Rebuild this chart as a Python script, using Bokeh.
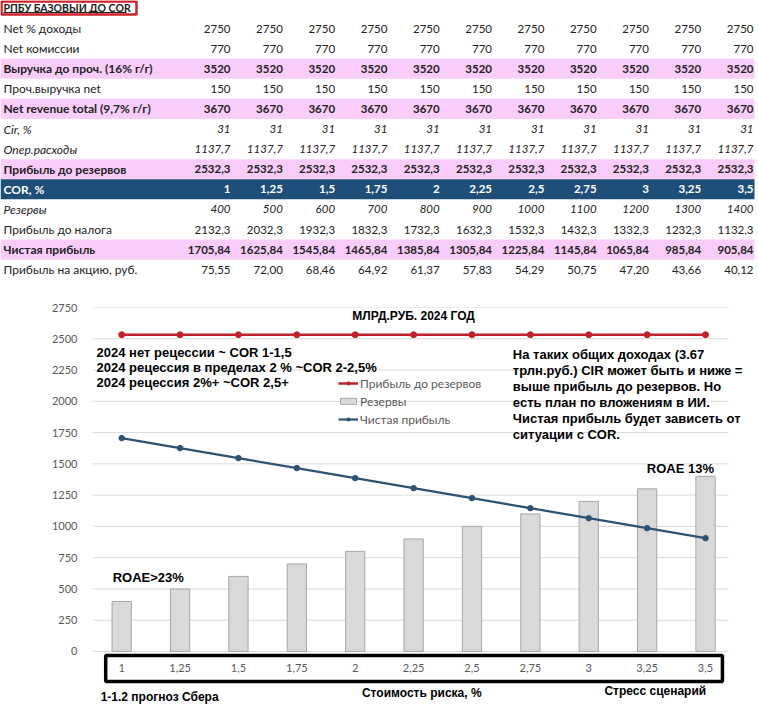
from bokeh.plotting import figure
from bokeh.models import ColumnDataSource, Range1d, FixedTicker
from bokeh.core.properties import value
from bokeh.embed import file_html
from bokeh.resources import INLINE

# ---------------- data ----------------
cor_labels = ["1", "1,25", "1,5", "1,75", "2", "2,25", "2,5", "2,75", "3", "3,25", "3,5"]
net_interest_income = [2750, 2750, 2750, 2750, 2750, 2750, 2750, 2750, 2750, 2750, 2750]
net_commissions = [770, 770, 770, 770, 770, 770, 770, 770, 770, 770, 770]
revenue_before_other = [3520, 3520, 3520, 3520, 3520, 3520, 3520, 3520, 3520, 3520, 3520]
other_revenue = [150, 150, 150, 150, 150, 150, 150, 150, 150, 150, 150]
net_revenue_total = [3670, 3670, 3670, 3670, 3670, 3670, 3670, 3670, 3670, 3670, 3670]
cir_pct = [31, 31, 31, 31, 31, 31, 31, 31, 31, 31, 31]
opex = [1137.7, 1137.7, 1137.7, 1137.7, 1137.7, 1137.7, 1137.7, 1137.7, 1137.7, 1137.7, 1137.7]
profit_before_provisions = [2532.3, 2532.3, 2532.3, 2532.3, 2532.3, 2532.3, 2532.3, 2532.3, 2532.3, 2532.3, 2532.3]
provisions = [400, 500, 600, 700, 800, 900, 1000, 1100, 1200, 1300, 1400]
profit_before_tax = [2132.3, 2032.3, 1932.3, 1832.3, 1732.3, 1632.3, 1532.3, 1432.3, 1332.3, 1232.3, 1132.3]
net_profit = [1705.84, 1625.84, 1545.84, 1465.84, 1385.84, 1305.84, 1225.84, 1145.84, 1065.84, 985.84, 905.84]
eps_rub = [75.55, 72.00, 68.46, 64.92, 61.37, 57.83, 54.29, 50.75, 47.20, 43.66, 40.12]
y_ticks = [0, 250, 500, 750, 1000, 1250, 1500, 1750, 2000, 2250, 2500, 2750]

series_names = ["Прибыль до резервов", "Резервы", "Чистая прибыль"]
chart_title = "МЛРД.РУБ. 2024 ГОД"
note_left = ["2024 нет рецессии ~ COR 1-1,5",
             "2024 рецессия в пределах 2 % ~COR 2-2,5%",
             "2024 рецессия 2%+ ~COR 2,5+"]
note_right = ["На таких общих доходах (3.67",
              "трлн.руб.) CIR может быть и ниже =",
              "выше прибыль до резервов. Но",
              "есть план по вложениям в ИИ.",
              "Чистая прибыль будет зависеть от",
              "ситуации с COR."]


def fmt(v, d):
    return f"{v:.{d}f}".replace(".", ",")


rows = [
    ("Net % доходы", [fmt(v, 0) for v in net_interest_income], "normal", None),
    ("Net комиссии", [fmt(v, 0) for v in net_commissions], "normal", None),
    ("Выручка до проч. (16% г/г)", [fmt(v, 0) for v in revenue_before_other], "bold", "pink"),
    ("Проч.выручка net", [fmt(v, 0) for v in other_revenue], "normal", None),
    ("Net revenue total (9,7% г/г)", [fmt(v, 0) for v in net_revenue_total], "bold", "pink"),
    ("Cir, %", [fmt(v, 0) for v in cir_pct], "italic", None),
    ("Опер.расходы", [fmt(v, 1) for v in opex], "italic", None),
    ("Прибыль до резервов", [fmt(v, 1) for v in profit_before_provisions], "bold", "pink"),
    ("COR, %", cor_labels, "bold", "blue"),
    ("Резервы", [fmt(v, 0) for v in provisions], "italic", None),
    ("Прибыль до налога", [fmt(v, 1) for v in profit_before_tax], "normal", None),
    ("Чистая прибыль", [fmt(v, 2) for v in net_profit], "bold", "pink"),
    ("Прибыль на акцию, руб.", [fmt(v, 2) for v in eps_rub], "normal", None),
]

# ---------------- table figure ----------------
W = 756
T_H = 290
ROW0, ROW_H = 28, 20.1
COL_R0, COL_STEP = 230, 52.3
PINK = "#F9CCF9"
NAVY = "#1F4E79"
TXT = "#222222"
TFONT = value("Lato")

t = figure(width=W, height=T_H, x_range=Range1d(0, W), y_range=Range1d(T_H, 0),
           output_backend="svg", toolbar_location=None, min_border=0,
           x_axis_location=None, y_axis_location=None)
t.grid.visible = False
t.outline_line_color = None

band = dict(left=[], right=[], top=[], bottom=[], color=[])
lab = dict(x=[], y=[], text=[], style=[], color=[])
val = dict(x=[], y=[], text=[], style=[], color=[])
for r, (label, vals, style, bg) in enumerate(rows):
    y = ROW0 + r * ROW_H
    col = "white" if bg == "blue" else TXT
    if bg is not None:
        band["left"].append(0)
        band["right"].append(754)
        band["top"].append(y - ROW_H / 2)
        band["bottom"].append(y + ROW_H / 2)
        band["color"].append(PINK if bg == "pink" else NAVY)
    lab["x"].append(3)
    lab["y"].append(y)
    lab["text"].append(label)
    lab["style"].append(style)
    lab["color"].append(col)
    for c, s in enumerate(vals):
        val["x"].append(COL_R0 + c * COL_STEP)
        val["y"].append(y)
        val["text"].append(s)
        val["style"].append(style)
        val["color"].append(col)

t.quad(left="left", right="right", top="top", bottom="bottom", fill_color="color",
       line_color=None, source=ColumnDataSource(band))
t.text(x="x", y="y", text="text", text_font_style="style", text_color="color",
       text_font=TFONT, text_font_size="12px", text_align="left", text_baseline="middle",
       source=ColumnDataSource(lab))
t.text(x="x", y="y", text="text", text_font_style="style", text_color="color",
       text_font=TFONT, text_font_size="11.5px", text_align="right", text_baseline="middle",
       source=ColumnDataSource(val))

# header with red frame and underline
t.text(x=[3], y=[7], text=["РПБУ БАЗОВЫЙ ДО COR"], text_font=TFONT, text_font_style="bold",
       text_font_size="10.5px", text_color=TXT, text_baseline="middle")
t.segment(x0=[3], y0=[12], x1=[126], y1=[12], line_color=TXT, line_width=1)
t.quad(left=[1], right=[136], top=[1], bottom=[14], fill_color=None,
       line_color="#D0202A", line_width=2.5)

# ---------------- chart figure ----------------
C_H = 414
idx = list(range(len(cor_labels)))
p = figure(width=W, height=C_H, x_range=Range1d(-0.5, 10.805), y_range=Range1d(-424, 2750),
           output_backend="svg", toolbar_location=None, x_axis_location=None,
           min_border_left=92, min_border_right=4, min_border_top=17, min_border_bottom=0)
p.outline_line_color = None
p.grid.visible = False
p.yaxis.ticker = FixedTicker(ticks=y_ticks)
p.yaxis.axis_line_color = None
p.yaxis.major_tick_line_color = None
p.yaxis.minor_tick_line_color = None
p.yaxis.major_label_standoff = 9
p.yaxis.major_label_text_font = "Lato"
p.yaxis.major_label_text_font_size = "11px"
p.yaxis.major_label_text_color = "#595959"

# gridlines
p.segment(x0=[-0.5] * len(y_ticks), y0=y_ticks, x1=[10.39] * len(y_ticks), y1=y_ticks,
          line_color="#D9D9D9", line_width=1)

RED = "#C0222B"
BLUE = "#2E5273"
p.line(idx, profit_before_provisions, line_color=RED, line_width=2.5, legend_label=series_names[0])
p.scatter(idx, profit_before_provisions, size=6, color=RED, legend_label=series_names[0])
p.vbar(x=idx, top=provisions, width=0.33, fill_color="#D9D9D9", line_color="#A6A6A6",
       line_width=1, legend_label=series_names[1])
p.line(idx, net_profit, line_color=BLUE, line_width=2.2, legend_label=series_names[2])
p.scatter(idx, net_profit, size=5.5, color=BLUE, legend_label=series_names[2])

lg = p.legend[0]
lg.location = (246, 277)
lg.background_fill_alpha = 0
lg.border_line_alpha = 0
lg.padding = 0
lg.margin = 0
lg.spacing = 2
lg.glyph_width = 20
lg.glyph_height = 8
lg.label_height = 16
lg.label_standoff = 2
lg.label_text_font = "Lato"
lg.label_text_font_size = "12px"
lg.label_text_color = "#595959"

AFONT = value("Liberation Sans")
# x-axis box and category labels
p.quad(left=[-0.274], right=[10.29], top=[-32], bottom=[-240], fill_color=None,
       line_color="black", line_width=3.5)
p.text(x=idx, y=[-136] * len(idx), text=cor_labels, text_font=value("Lato"),
       text_font_size="11px", text_color="#595959", text_align="center", text_baseline="middle")

# title and notes
p.text(x=[5.0], y=[2686], text=[chart_title], text_font=AFONT, text_font_style="bold",
       text_font_size="12px", text_color="black", text_align="center", text_baseline="middle")
p.text(x=[-0.43] * 3, y=[2390, 2270, 2150], text=note_left, text_font=AFONT,
       text_font_style="bold", text_font_size="13px", text_color="black",
       text_baseline="middle")
p.text(x=[6.70] * 6, y=[2374, 2246, 2118, 1990, 1863, 1735], text=note_right, text_font=AFONT,
       text_font_style="bold", text_font_size="13px", text_color="black",
       text_baseline="middle")
p.text(x=[9.57], y=[1463], text=["ROAE 13%"], text_font=AFONT, text_font_style="bold",
       text_font_size="13px", text_color="black", text_align="center", text_baseline="middle")
p.text(x=[0.455], y=[592], text=["ROAE>23%"], text_font=AFONT, text_font_style="bold",
       text_font_size="13px", text_color="black", text_align="center", text_baseline="middle")
p.text(x=[-0.36], y=[-368], text=["1-1.2 прогноз Сбера"], text_font=AFONT, text_font_style="bold",
       text_font_size="12px", text_color="black", text_baseline="middle")
p.text(x=[5.14], y=[-336], text=["Стоимость риска, %"], text_font=AFONT, text_font_style="bold",
       text_font_size="12px", text_color="black", text_align="center", text_baseline="middle")
p.text(x=[9.14], y=[-320], text=["Стресс сценарий"], text_font=AFONT, text_font_style="bold",
       text_font_size="12px", text_color="black", text_align="center", text_baseline="middle")

# two independent roots stacked vertically (no frame alignment between them)
open("out.html", "w").write(file_html([t, p], INLINE))
